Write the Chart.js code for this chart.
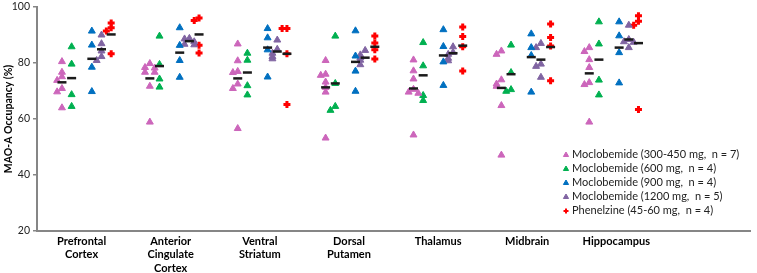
<!DOCTYPE html>
<html>
<head>
<meta charset="utf-8">
<script src="https://cdn.jsdelivr.net/npm/chart.js@4.4.0/dist/chart.umd.min.js"></script>
<style>
  html, body { margin: 0; padding: 0; background: #fff; }
  #wrap { width: 757px; height: 273px; }
</style>
</head>
<body>
<div id="wrap"><canvas id="c" width="757" height="273"></canvas></div>
<script>
// brain regions (x categories) and y ticks
const regions = [['Prefrontal', 'Cortex'], ['Anterior', 'Cingulate', 'Cortex'], ['Ventral', 'Striatum'], ['Dorsal', 'Putamen'], ['Thalamus'], ['Midbrain'], ['Hippocampus']];
const yTicks = [20, 40, 60, 80, 100];

// occupancy per subject, one row per region
const moc300 = [
  [80.5, 76.7, 75.1, 73.8, 70.9, 69.7, 64.0],
  [79.8, 78.4, 78.2, 76.7, 76.7, 71.7, 58.9],
  [86.8, 80.8, 77.0, 76.6, 72.5, 70.9, 56.6],
  [80.9, 76.0, 75.6, 73.2, 71.3, 69.6, 53.2],
  [81.1, 77.2, 74.3, 70.6, 69.6, 69.2, 54.3],
  [84.3, 83.1, 74.0, 72.5, 71.7, 64.8, 47.1],
  [85.5, 84.1, 81.2, 78.4, 73.0, 72.3, 58.9]
];
const moc600 = [
  [85.8, 79.6, 68.7, 64.5],
  [89.6, 79.5, 74.3, 71.4],
  [83.5, 81.0, 71.9, 68.6],
  [89.6, 72.7, 64.5, 63.1],
  [87.3, 79.0, 68.4, 66.6],
  [86.4, 76.6, 70.5, 69.9],
  [94.7, 86.8, 73.9, 68.6]
];
const moc900 = [
  [91.4, 86.4, 78.5, 69.8],
  [92.6, 86.3, 80.9, 74.9],
  [92.3, 89.0, 84.7, 75.0],
  [91.5, 82.5, 77.1, 69.9],
  [91.9, 85.9, 80.4, 72.0],
  [90.4, 85.5, 82.7, 69.6],
  [94.7, 89.7, 83.7, 72.9]
];
const moc1200 = [
  [90.0, 86.9, 84.3, 82.3, 80.9],
  [88.8, 88.6, 87.6, 86.7, 86.5],
  [88.2, 84.9, 83.5, 82.3, 81.5],
  [84.5, 82.9, 81.9, 81.0, 79.4],
  [85.8, 83.8, 83.1, 81.7, 80.8],
  [87.0, 85.5, 79.6, 78.8, 74.9],
  [93.5, 88.4, 87.6, 87.4, 85.5]
];
const phenelzine = [
  [94.3, 92.6, 91.4, 83.3],
  [96.1, 95.2, 86.3, 83.6],
  [92.3, 92.3, 83.3, 65.2],
  [89.6, 87.1, 84.7, 81.4],
  [92.9, 89.5, 85.8, 77.1],
  [93.9, 89.1, 86.1, 73.7],
  [96.9, 94.9, 93.5, 63.4]
];

// group means (black dashes)
const meanMoc300 = [73.1, 74.5, 74.5, 71.3, 70.9, 71.1, 76.3];
const meanMoc600 = [74.6, 78.9, 76.6, 72.7, 75.6, 76.0, 81.2];
const meanMoc900 = [81.5, 83.7, 85.5, 80.4, 82.7, 82.1, 85.5];
const meanMoc1200 = [84.9, 87.8, 84.1, 81.9, 83.5, 81.2, 88.4];
const meanPhenelzine = [90.2, 90.2, 83.3, 85.8, 86.2, 85.7, 87.1];

Chart.defaults.font.family = "Lato, 'Liberation Sans', sans-serif";
Chart.defaults.color = '#222';

const groups = [
  {label: 'Moclobemide (300-450 mg,  n = 7)', vals: moc300, means: meanMoc300, color: '#CC66BB', style: 'triangle', off: -0.29},
  {label: 'Moclobemide (600 mg,  n = 4)', vals: moc600, means: meanMoc600, color: '#00B050', style: 'triangle', off: -0.18},
  {label: 'Moclobemide (900 mg,  n = 4)', vals: moc900, means: meanMoc900, color: '#0070C0', style: 'triangle', off: 0.05},
  {label: 'Moclobemide (1200 mg,  n = 5)', vals: moc1200, means: meanMoc1200, color: '#8064A2', style: 'triangle', off: 0.16},
  {label: 'Phenelzine (45-60 mg,  n = 4)', vals: phenelzine, means: meanPhenelzine, color: '#FF0000', style: 'cross', off: 0.27}
];

// small side-shift for points that would sit on top of each other
const shifts = [0, -0.055, 0.055, -0.11, 0.11];
function spread(row, x) {
  return row.map((v, k) => {
    const near = row.slice(0, k).filter(u => Math.abs(u - v) < 1.6).length;
    return {x: x + shifts[Math.min(near, 4)], y: v};
  });
}

const datasets = [];
groups.forEach(g => {
  datasets.push({
    label: g.label,
    data: g.vals.flatMap((row, i) => spread(row, i + 0.5 + g.off)),
    xAxisID: 'xp',
    pointStyle: g.style,
    pointRadius: g.style === 'cross' ? 3.5 : 4,
    borderWidth: g.style === 'cross' ? 3 : 1,
    backgroundColor: g.color,
    borderColor: g.color,
    order: 1
  });
});
groups.forEach(g => {
  datasets.push({
    label: 'mean',
    data: g.means.map((m, i) => ({x: i + 0.5 + g.off, y: m})),
    xAxisID: 'xp',
    pointStyle: 'line',
    pointRadius: 4.5,
    borderWidth: 2.5,
    borderColor: '#1a1a1a',
    backgroundColor: '#1a1a1a',
    order: -1
  });
});

const sideLegend = {
  id: 'sideLegend',
  afterDraw(chart) {
    const ctx = chart.ctx;
    ctx.save();
    groups.forEach((g, i) => {
      const y = 154 + i * 14;
      ctx.fillStyle = g.color;
      ctx.strokeStyle = g.color;
      ctx.lineWidth = g.style === 'cross' ? 2 : 1;
      Chart.helpers.drawPoint(ctx, {pointStyle: g.style, radius: g.style === 'cross' ? 2.5 : 3, rotation: 0, borderWidth: ctx.lineWidth}, 566, y + 1);
      ctx.fillStyle = '#222';
      ctx.font = "11px Lato, 'Liberation Sans', sans-serif";
      ctx.textBaseline = 'middle';
      ctx.fillText(g.label, 572, y);
    });
    ctx.restore();
  }
};

new Chart(document.getElementById('c'), {
  type: 'scatter',
  data: {datasets},
  plugins: [sideLegend],
  options: {
    responsive: false,
    animation: false,
    devicePixelRatio: 1,
    layout: {padding: {top: 3, right: 2, left: 0, bottom: 0}},
    plugins: {legend: {display: false}, tooltip: {enabled: false}},
    scales: {
      x: {
        type: 'linear', min: 0, max: 8, position: 'bottom',
        afterBuildTicks: s => { s.ticks = regions.map((r, i) => ({value: i + 0.5})); },
        ticks: {callback: v => regions[Math.round(v - 0.5)], autoSkip: false, maxRotation: 0, color: '#000', font: {weight: 'bold', size: 11}, padding: 4},
        grid: {display: false, drawTicks: false},
        border: {color: '#868686', width: 2},
        afterFit: s => { s.height = 42; s.paddingLeft = 0; s.paddingRight = 0; }
      },
      xp: {type: 'linear', display: false, min: -0.074, max: 8.039},
      y: {
        min: 20, max: 100,
        afterBuildTicks: s => { s.ticks = yTicks.map(v => ({value: v})); },
        ticks: {font: {size: 10.5}, color: '#222', padding: 3},
        grid: {drawOnChartArea: false, drawTicks: true, tickLength: 4, color: '#868686', lineWidth: 1.5},
        border: {color: '#868686', width: 2},
        title: {display: true, text: 'MAO-A Occupancy (%)', color: '#000', font: {weight: 'bold', size: 10.5}, padding: {top: 2, bottom: 0}},
        afterFit: s => { s.width = 37; s.paddingTop = 0; s.paddingBottom = 0; }
      }
    }
  }
});
</script>
</body>
</html>
